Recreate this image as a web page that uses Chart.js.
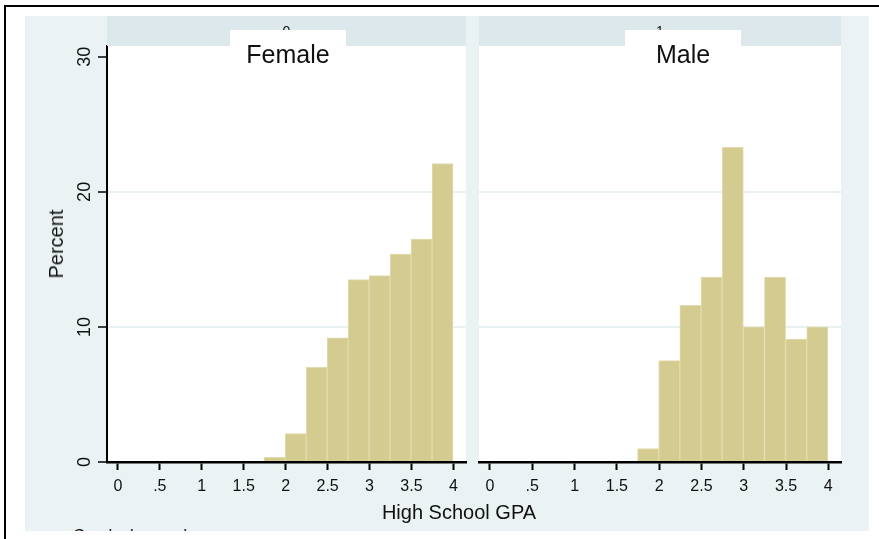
<!DOCTYPE html>
<html>
<head>
<meta charset="utf-8">
<title>High School GPA by gender</title>
<script src="https://cdn.jsdelivr.net/npm/chart.js@4.4.1/dist/chart.umd.min.js"></script>
<style>
  html, body { margin: 0; padding: 0; background: #fff; }
  #page { position: relative; width: 879px; height: 539px; overflow: hidden;
          font-family: "Liberation Sans", Arial, sans-serif; color: #111; }
  #frame { position: absolute; left: 4px; top: 5px; width: 890px; height: 550px;
           border-top: 2px solid #000; border-left: 2px solid #000; }
  #region { position: absolute; left: 25px; top: 16px; width: 844px; height: 515px;
            background: #eaf2f3; overflow: hidden; }
  #note { position: absolute; left: 48px; top: 510px; font-size: 16px; line-height: 20px; white-space: nowrap; }
  canvas { position: absolute; }
  .strip { position: absolute; top: 16px; height: 30px; background: #dce8ec; }
  .num { position: absolute; top: 16px; height: 30px; line-height: 30px; font-size: 14px; text-align: center; }
  .tag { position: absolute; top: 30px; height: 16px; width: 116px; background: #fff; }
  .lab { position: absolute; top: 42px; width: 116px; line-height: 25px; font-size: 25px; text-align: center; }
  #ytitle { position: absolute; left: 56px; top: 244px; transform: translate(-50%, -50%) rotate(-90deg);
            font-size: 20px; line-height: 20px; white-space: nowrap; }
  #xtitle { position: absolute; left: 459px; top: 512px; transform: translate(-50%, -50%);
            font-size: 20px; line-height: 20px; white-space: nowrap; }
</style>
</head>
<body>
<div id="page">
  <div id="frame"></div>
  <div id="region"><div id="note">Graphs by gender</div></div>

  <canvas id="femaleChart" width="447" height="470" style="left:25px; top:40px;"></canvas>
  <canvas id="maleChart" width="397" height="470" style="left:472px; top:40px;"></canvas>

  <div class="strip" style="left:107px; width:359px;"></div>
  <div class="strip" style="left:479px; width:362px;"></div>
  <div class="num" style="left:107px; width:359px;">0</div>
  <div class="num" style="left:479px; width:362px;">1</div>
  <div class="tag" style="left:230px;"></div>
  <div class="tag" style="left:625px;"></div>
  <div class="lab" style="left:230px;">Female</div>
  <div class="lab" style="left:625px;">Male</div>

  <div id="ytitle">Percent</div>
  <div id="xtitle">High School GPA</div>
</div>

<script>
// GPA bin midpoints (bin width 0.25) and the percentage of students in each bin
const gpaBins   = [1.87, 2.12, 2.37, 2.62, 2.87, 3.12, 3.37, 3.62, 3.87];
const femalePct = [0.34, 2.1, 7.0, 9.2, 13.5, 13.8, 15.4, 16.5, 22.1];
const malePct   = [1.0, 7.5, 11.6, 13.7, 23.3, 10.0, 13.7, 9.1, 10.0];

// axis labels
const xTickLabels = ['0', '.5', '1', '1.5', '2', '2.5', '3', '3.5', '4'];
const yTickLabels = ['0', '10', '20', '30'];

const BAR_FILL = 'rgb(212,203,145)';
const BAR_EDGE = 'rgb(226,220,172)';
const GRID = '#e9f1f2';

Chart.defaults.font.family = '"Liberation Sans", Arial, sans-serif';

// white plot region behind the bars
const plotBackground = {
  id: 'plotBackground',
  beforeDraw(chart) {
    const { ctx, chartArea: a } = chart;
    ctx.save();
    ctx.fillStyle = '#fff';
    ctx.fillRect(a.left, a.top, a.right - a.left, a.bottom - a.top);
    ctx.restore();
  }
};

function makeHistogram(canvasId, values, showYAxis, padding) {
  const points = gpaBins.map((x, i) => ({ x: x, y: values[i] }));
  return new Chart(document.getElementById(canvasId), {
    type: 'bar',
    data: {
      datasets: [{
        data: points,
        backgroundColor: BAR_FILL,
        borderColor: BAR_EDGE,
        borderWidth: 1,
        barPercentage: 1,
        categoryPercentage: 1
      }]
    },
    options: {
      responsive: false,
      animation: false,
      devicePixelRatio: 1,
      events: [],
      layout: { padding: padding },
      plugins: { legend: { display: false }, tooltip: { enabled: false } },
      scales: {
        x: {
          type: 'linear',
          min: -0.13,
          max: 4.15,
          offset: false,
          ticks: {
            stepSize: 0.5,
            includeBounds: false,
            autoSkip: false,
            maxRotation: 0,
            padding: 7,
            color: '#111',
            font: { size: 16 },
            callback: (v, i) => xTickLabels[i]
          },
          grid: {
            offset: false,
            drawOnChartArea: false,
            drawTicks: true,
            tickLength: 8,
            tickWidth: 2,
            tickColor: '#000'
          },
          border: { display: true, color: '#000', width: 2.5 },
          afterFit(s) { s.height = 48; s.paddingLeft = 0; s.paddingRight = 0; }
        },
        y: {
          type: 'linear',
          min: 0,
          max: 30.8,
          ticks: {
            display: showYAxis,
            stepSize: 10,
            includeBounds: false,
            minRotation: 90,
            maxRotation: 90,
            crossAlign: 'center',
            padding: 3,
            color: '#111',
            font: { size: 18 },
            callback: (v, i) => yTickLabels[i]
          },
          grid: {
            color: ctx => (ctx.index > 0 && ctx.index < ctx.scale.ticks.length - 1) ? GRID : 'rgba(0,0,0,0)',
            lineWidth: 2,
            drawTicks: showYAxis,
            tickLength: 9,
            tickWidth: 1.5,
            tickColor: '#000'
          },
          border: { display: showYAxis, color: '#000', width: 2 },
          afterFit(s) { s.width = showYAxis ? 82 : 0; s.paddingTop = 0; s.paddingBottom = 0; }
        }
      }
    },
    plugins: [plotBackground]
  });
}

makeHistogram('femaleChart', femalePct, true, { top: 6, right: 6, left: 0, bottom: 0 });
makeHistogram('maleChart', malePct, false, { top: 6, right: 28, left: 7, bottom: 0 });
</script>
</body>
</html>
